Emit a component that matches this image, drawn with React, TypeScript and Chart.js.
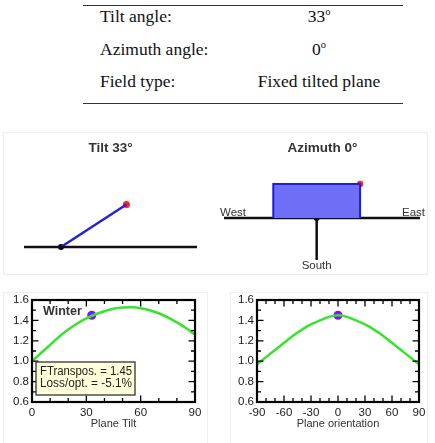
import React, { useEffect, useRef } from 'react';
import { Chart, registerables } from 'chart.js';

Chart.register(...registerables);

// ---------------- data ----------------
const tableLabels = ['Tilt angle:', 'Azimuth angle:', 'Field type:'];
const tiltAngle = 33;
const azimuthAngle = 0;
const fieldType = 'Fixed tilted plane';

const tiltAxis = [0, 5, 10, 15, 20, 25, 30, 35, 40, 45, 50, 55, 60, 65, 70, 75, 80, 85, 90];
const tiltFactor = [1.0, 1.08, 1.16, 1.24, 1.31, 1.37, 1.42, 1.46, 1.49, 1.515, 1.527, 1.528, 1.52, 1.5, 1.47, 1.43, 1.38, 1.325, 1.26];

const orientAxis = [-90, -80, -70, -60, -50, -40, -30, -20, -10, 0, 10, 20, 30, 40, 50, 60, 70, 80, 90];
const orientFactor = [0.97, 1.04, 1.11, 1.18, 1.25, 1.31, 1.36, 1.4, 1.435, 1.45, 1.435, 1.4, 1.36, 1.31, 1.25, 1.18, 1.11, 1.04, 0.97];

const currentFactor = 1.45;
const lossOpt = -5.1;
const seasonLabel = 'Winter';

const yTicks = [0.6, 0.8, 1.0, 1.2, 1.4, 1.6];
const tiltTicks = [0, 30, 60, 90];
const orientTicks = [-90, -60, -30, 0, 30, 60, 90];

// diagram geometry (in diagram units)
const tiltGroundX = [-0.474, 1.744];
const tiltPanelLength = 1;
const azGroundX = [-2.136, 2.38];
const azSouthY = [0, -0.968];
const azPanelHalfWidth = 1;
const azPanelHeight = 0.783;

const SANS = '"Liberation Sans", Arial, sans-serif';
const SERIF = '"Liberation Serif", "Times New Roman", serif';

// ---------------- helpers ----------------
function ChartCanvas(props: { make: (c: HTMLCanvasElement) => Chart; left: number; top: number; width: number; height: number }) {
  const ref = useRef<HTMLCanvasElement>(null);
  useEffect(() => {
    const chart = props.make(ref.current as HTMLCanvasElement);
    return () => chart.destroy();
  }, []);
  return (
    <canvas
      ref={ref}
      width={props.width}
      height={props.height}
      style={{ position: 'absolute', left: props.left, top: props.top, width: props.width, height: props.height }}
    />
  );
}

const hiddenScale = (min: number, max: number) => ({ type: 'linear' as const, display: false, min, max });

const baseOpts = {
  responsive: false,
  animation: false as const,
  events: [] as any[],
  plugins: { legend: { display: false }, tooltip: { enabled: false }, title: { display: false } },
};

function makeTiltDiagram(canvas: HTMLCanvasElement) {
  const rad = (tiltAngle * Math.PI) / 180;
  const end = { x: tiltPanelLength * Math.cos(rad), y: tiltPanelLength * Math.sin(rad) };
  return new Chart(canvas, {
    type: 'scatter',
    data: {
      datasets: [
        { data: tiltGroundX.map((x) => ({ x, y: 0 })), showLine: true, borderColor: '#111', borderWidth: 2.5, pointRadius: 0 },
        { data: [{ x: 0, y: 0 }, end], showLine: true, borderColor: '#2222d8', borderWidth: 2.5, pointRadius: 0 },
        { data: [end], pointRadius: 3.5, pointBackgroundColor: '#ff2020', pointBorderWidth: 0 },
        { data: [{ x: 0, y: 0 }], pointRadius: 3, pointBackgroundColor: '#000', pointBorderWidth: 0 },
      ],
    },
    options: {
      ...baseOpts,
      layout: { padding: 0, autoPadding: false },
      scales: { x: hiddenScale(-0.7436, 1.9744), y: hiddenScale(-0.359, 1.4615) },
    },
    plugins: [
      {
        id: 'tiltTitle',
        afterDraw(chart: any) {
          const ctx = chart.ctx;
          ctx.save();
          ctx.font = `bold 13.5px ${SANS}`;
          ctx.fillStyle = '#333';
          ctx.textAlign = 'center';
          ctx.textBaseline = 'middle';
          ctx.fillText(`Tilt ${tiltAngle}°`, 107.5, 15.5);
          ctx.restore();
        },
      },
    ],
  } as any);
}

function makeAzimuthDiagram(canvas: HTMLCanvasElement) {
  const rect = [
    { x: -azPanelHalfWidth, y: 0 },
    { x: -azPanelHalfWidth, y: azPanelHeight },
    { x: azPanelHalfWidth, y: azPanelHeight },
    { x: azPanelHalfWidth, y: 0 },
  ];
  return new Chart(canvas, {
    type: 'scatter',
    data: {
      datasets: [
        { data: rect, showLine: true, fill: 'origin', backgroundColor: '#6e6ef6', borderColor: '#1e1ede', borderWidth: 2, pointRadius: 0, tension: 0 },
        { data: azGroundX.map((x) => ({ x, y: 0 })), showLine: true, borderColor: '#111', borderWidth: 2.5, pointRadius: 0 },
        { data: azSouthY.map((y) => ({ x: 0, y })), showLine: true, borderColor: '#111', borderWidth: 2.5, pointRadius: 0 },
        { data: [{ x: azPanelHalfWidth, y: azPanelHeight }], pointRadius: 3.2, pointBackgroundColor: '#ff2020', pointBorderWidth: 0 },
        { data: [{ x: 0, y: 0 }], pointRadius: 3, pointBackgroundColor: '#000', pointBorderWidth: 0 },
      ],
    },
    options: {
      ...baseOpts,
      layout: { padding: 0, autoPadding: false },
      scales: { x: hiddenScale(-2.343, 2.565), y: hiddenScale(-1.3134, 1.9585) },
    },
    plugins: [
      {
        id: 'azText',
        afterDraw(chart: any) {
          const { ctx, scales } = chart;
          const xs = scales.x, ys = scales.y;
          ctx.save();
          ctx.font = `bold 13.5px ${SANS}`;
          ctx.fillStyle = '#333';
          ctx.textAlign = 'center';
          ctx.textBaseline = 'middle';
          ctx.fillText(`Azimuth ${azimuthAngle}°`, 107.5, 15.5);
          ctx.font = `11.5px ${SANS}`;
          ctx.textBaseline = 'alphabetic';
          const gy = ys.getPixelForValue(0);
          ctx.textAlign = 'left';
          ctx.fillText('West', xs.getPixelForValue(azGroundX[0]) - 4, gy - 2);
          ctx.textAlign = 'right';
          ctx.fillText('East', xs.getPixelForValue(azGroundX[1]) + 5, gy - 2);
          ctx.textAlign = 'center';
          ctx.textBaseline = 'middle';
          ctx.fillText('South', xs.getPixelForValue(0), ys.getPixelForValue(azSouthY[1]) + 6);
          ctx.restore();
        },
      },
    ],
  } as any);
}

function frameTicksPlugin(minorX: number, majorX: number) {
  return {
    id: 'frameTicks',
    afterDatasetsDraw(chart: any) {
      const { ctx, chartArea: ca, scales } = chart;
      const xs = scales.x, ys = scales.y;
      ctx.save();
      ctx.strokeStyle = '#000';
      ctx.lineWidth = 1.3;
      ctx.beginPath();
      const nX = Math.round((xs.max - xs.min) / minorX);
      for (let i = 0; i <= nX; i++) {
        const v = xs.min + i * minorX;
        const p = xs.getPixelForValue(v);
        const r = v / majorX;
        const major = Math.abs(r - Math.round(r)) < 1e-6;
        const len = major ? 6.5 : 4;
        ctx.moveTo(p, ca.bottom); ctx.lineTo(p, ca.bottom - len);
        ctx.moveTo(p, ca.top); ctx.lineTo(p, ca.top + len);
      }
      const nY = Math.round((ys.max - ys.min) / 0.1);
      for (let i = 0; i <= nY; i++) {
        const v = ys.min + i * 0.1;
        const p = ys.getPixelForValue(v);
        const major = i % 2 === 0;
        const len = major ? 6.5 : 4;
        ctx.moveTo(ca.left, p); ctx.lineTo(ca.left + len, p);
        ctx.moveTo(ca.right, p); ctx.lineTo(ca.right - len, p);
      }
      ctx.stroke();
      ctx.lineWidth = 2.2;
      ctx.strokeRect(ca.left, ca.top, ca.right - ca.left, ca.bottom - ca.top);
      ctx.restore();
    },
  };
}

function factorChart(canvas: HTMLCanvasElement, opts: {
  xs: number[]; ys: number[]; dotX: number; ticks: number[]; min: number; max: number; title: string;
  yWidth: number; padRight: number; minorX: number; majorX: number; extra?: any;
}) {
  const plugins: any[] = [frameTicksPlugin(opts.minorX, opts.majorX)];
  if (opts.extra) plugins.push(opts.extra);
  return new Chart(canvas, {
    type: 'scatter',
    data: {
      datasets: [
        {
          data: opts.xs.map((x, i) => ({ x, y: opts.ys[i] })),
          showLine: true, borderColor: '#36e42c', borderWidth: 2.5, pointRadius: 0, cubicInterpolationMode: 'monotone',
        },
        { data: [{ x: opts.dotX, y: currentFactor }], pointRadius: 4.5, pointBackgroundColor: '#8010ff', pointBorderWidth: 0 },
      ],
    },
    options: {
      ...baseOpts,
      layout: { padding: { top: 10, right: opts.padRight, left: 0, bottom: 0 }, autoPadding: false },
      scales: {
        x: {
          type: 'linear', min: opts.min, max: opts.max,
          grid: { display: false, drawTicks: false }, border: { display: false },
          afterBuildTicks: (s: any) => { s.ticks = opts.ticks.map((value) => ({ value })); },
          ticks: { font: { family: SANS, size: 11.5 }, color: '#1a1a1a', padding: 4, maxRotation: 0, autoSkip: false },
          title: { display: true, text: opts.title, font: { family: SANS, size: 11 }, color: '#333', padding: { top: 0, bottom: 12.5 } },
          afterFit: (s: any) => { s.height = 41; },
        },
        y: {
          type: 'linear', min: 0.6, max: 1.6,
          grid: { display: false, drawTicks: false }, border: { display: false },
          afterBuildTicks: (s: any) => { s.ticks = yTicks.map((value) => ({ value })); },
          ticks: { font: { family: SANS, size: 11.5 }, color: '#1a1a1a', padding: 3, callback: (v: any) => Number(v).toFixed(1) },
          afterFit: (s: any) => { s.width = opts.yWidth; },
        },
      },
    },
    plugins,
  } as any);
}

const tiltAnnot = {
  id: 'tiltAnnot',
  afterDraw(chart: any) {
    const { ctx, chartArea: ca } = chart;
    ctx.save();
    ctx.font = `bold 12.5px ${SANS}`;
    ctx.fillStyle = '#333';
    ctx.textBaseline = 'middle';
    ctx.textAlign = 'left';
    ctx.fillText(seasonLabel, ca.left + 11, ca.top + 11.5);
    const bx = ca.left + 4, by = ca.top + 62, bw = 99, bh = 33;
    ctx.fillStyle = '#ffffd9';
    ctx.fillRect(bx, by, bw, bh);
    ctx.strokeStyle = '#333';
    ctx.lineWidth = 1.3;
    ctx.strokeRect(bx, by, bw, bh);
    ctx.fillStyle = '#222';
    ctx.font = `12px ${SANS}`;
    ctx.fillText(`FTranspos. = ${currentFactor.toFixed(2)}`, bx + 4, by + 9.5, 92);
    ctx.fillText(`Loss/opt. = ${lossOpt.toFixed(1)}%`, bx + 4, by + 22, 92);
    ctx.restore();
  },
};

export default function App() {
  const rowTops = [5.8, 39, 71];
  const values: React.ReactNode[] = [
    <span>{tiltAngle}<sup style={{ fontSize: '0.6em', lineHeight: 0 }}>o</sup></span>,
    <span>{azimuthAngle}<sup style={{ fontSize: '0.6em', lineHeight: 0 }}>o</sup></span>,
    <span>{fieldType}</span>,
  ];
  return (
    <div style={{ position: 'fixed', left: 0, top: 0, width: 435, height: 443, background: '#fff', overflow: 'hidden' }}>
      {/* table */}
      <div style={{ position: 'absolute', left: 83, top: 4.5, width: 320, height: 0, borderTop: '1.2px solid #333' }} />
      <div style={{ position: 'absolute', left: 83, top: 103, width: 320, height: 0, borderTop: '1.5px solid #333' }} />
      {tableLabels.map((t, i) => (
        <div key={'l' + i} style={{ position: 'absolute', left: 100, top: rowTops[i], fontFamily: SERIF, fontSize: 17.5, lineHeight: '20px', color: '#111', whiteSpace: 'nowrap' }}>{t}</div>
      ))}
      {values.map((v, i) => (
        <div key={'v' + i} style={{ position: 'absolute', left: 219, width: 200, textAlign: 'center', top: rowTops[i], fontFamily: SERIF, fontSize: 17.5, lineHeight: '20px', color: '#111', whiteSpace: 'nowrap' }}>{v}</div>
      ))}
      {/* faint frames */}
      <div style={{ position: 'absolute', left: 3, top: 132, width: 425, height: 143, border: '1px solid #ececec', boxSizing: 'border-box' }} />
      <div style={{ position: 'absolute', left: 3, top: 292, width: 205, height: 160, border: '1px solid #efefef', boxSizing: 'border-box' }} />
      <div style={{ position: 'absolute', left: 230, top: 292, width: 198, height: 160, border: '1px solid #efefef', boxSizing: 'border-box' }} />
      <ChartCanvas make={makeTiltDiagram} left={3} top={133} width={212} height={142} />
      <ChartCanvas make={makeAzimuthDiagram} left={215} top={133} width={213} height={142} />
      <ChartCanvas
        make={(c) => factorChart(c, { xs: tiltAxis, ys: tiltFactor, dotX: tiltAngle, ticks: tiltTicks, min: 0, max: 90, title: 'Plane Tilt', yWidth: 32, padRight: 20, minorX: 10, majorX: 30, extra: tiltAnnot })}
        left={0} top={290} width={215} height={153}
      />
      <ChartCanvas
        make={(c) => factorChart(c, { xs: orientAxis, ys: orientFactor, dotX: azimuthAngle, ticks: orientTicks, min: -90, max: 90, title: 'Plane orientation', yWidth: 42, padRight: 16, minorX: 10, majorX: 30 })}
        left={215} top={290} width={220} height={153}
      />
    </div>
  );
}
